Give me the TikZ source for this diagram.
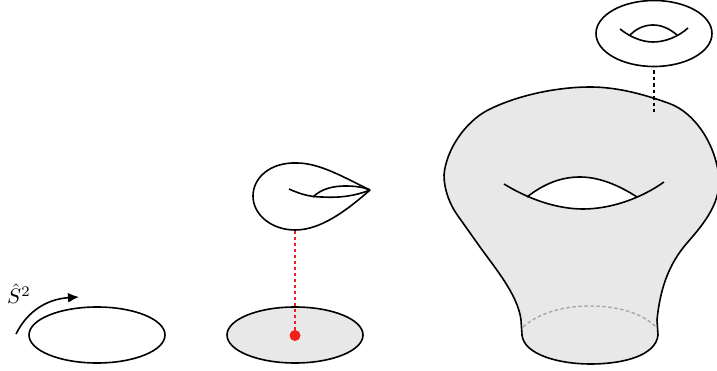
\documentclass[tikz,border=0pt]{standalone}
\usepackage{amsmath}
\usetikzlibrary{shapes.geometric,arrows.meta}
\definecolor{surfgray}{HTML}{E8E8E8}
\definecolor{dotred}{HTML}{F02018}
\tikzset{
  surf/.style={line width=1.6pt},
  disc/.style={draw,ellipse,line width=1.6pt,inner sep=0pt,minimum width=136pt,minimum height=56pt},
}
\begin{document}
\begin{tikzpicture}[x=1pt,y=-1pt,>={Latex[length=11pt,width=10pt]}]
    \useasboundingbox (0,0) rectangle (717,371);

    % big surface
    \path[fill=surfgray] (522,335) .. controls (524,355) and (560,364) .. (590,364)
      .. controls (625,364) and (656,355) .. (658,335)
      -- (657,320) .. controls (660,290) and (668,265) .. (687,243)
      .. controls (700,228) and (721,205) .. (719,178)
      .. controls (716,145) and (695,112) .. (668,103)
      .. controls (640,93) and (615,87) .. (590,87)
      .. controls (560,87) and (520,94) .. (488,110)
      .. controls (465,122) and (446,150) .. (444,175)
      .. controls (444,190) and (450,205) .. (458,216)
      -- (480,247) .. controls (495,268) and (518,295) .. (521,320) -- cycle;
    \draw[surf] (658,335) .. controls (656,355) and (625,364) .. (590,364)
      .. controls (560,364) and (524,355) .. (522,335)
      -- (521,320) .. controls (518,295) and (495,268) .. (480,247)
      -- (458,216) .. controls (450,205) and (444,190) .. (444,175)
      .. controls (446,150) and (465,122) .. (488,110)
      .. controls (520,94) and (560,87) .. (590,87)
      .. controls (615,87) and (640,93) .. (668,103)
      .. controls (695,112) and (716,145) .. (719,178)
      .. controls (721,205) and (700,228) .. (687,243)
      .. controls (668,265) and (660,290) .. (657,320) -- (658,335);
    \draw[gray!70,line width=1.4pt,dash pattern=on 3.5pt off 2.5pt] (523,327) .. controls (540,312) and (565,306) .. (590,306)
      .. controls (615,306) and (642,312) .. (657,328);
    % hole
    \path[fill=white] (527,197) .. controls (545,183) and (562,177) .. (580,177)
      .. controls (600,177) and (620,186) .. (637,197)
      .. controls (620,205) and (600,209) .. (583,209)
      .. controls (565,209) and (545,205) .. (527,197) -- cycle;
    \draw[surf] (504,184) .. controls (530,200) and (558,209) .. (583,209)
      .. controls (610,209) and (640,199) .. (664,182);
    \draw[surf] (527,197) .. controls (545,183) and (562,177) .. (580,177)
      .. controls (600,177) and (620,186) .. (637,197);

    % small torus
    \node[disc,minimum width=116pt,minimum height=66pt] (torus) at (654,33.5) {};
    \draw[surf] (620,29) .. controls (630,37) and (642,42) .. (653,42)
      .. controls (665,42) and (678,37) .. (688,28);
    \draw[surf] (630,35) .. controls (637,28) and (645,25) .. (653,25)
      .. controls (662,25) and (670,29) .. (677,35);
    \coordinate (neck) at (654,112);
    \draw[line width=1.3pt,dash pattern=on 3.5pt off 3pt] (torus.south) ++(0,3) -- (neck);

    % teardrop
    \coordinate (tip) at (370,190);
    \coordinate (dropbase) at (295,231);
    \draw[surf,line join=round] (tip) .. controls (345,178) and (320,163) .. (297,163)
      .. controls (270,162) and (253,178) .. (253,196)
      .. controls (253,215) and (272,230) .. (295,230)
      .. controls (320,230) and (345,212) .. (tip);
    \draw[surf] (289,189) .. controls (300,194) and (310,197) .. (322,197)
      .. controls (340,198) and (355,196) .. (tip);
    \draw[surf] (313,197) .. controls (322,188) and (335,186) .. (345,186)
      .. controls (355,186) and (363,187) .. (tip);

    % discs
    \node[disc] (plain) at (97,335) {};
    \node[disc,fill=surfgray] (shaded) at (295,335) {};
    \node[circle,fill=dotred,inner sep=0pt,minimum size=11pt] (pt) at (295,335.5) {};
    \draw[dotred,line width=1.5pt,dash pattern=on 3pt off 3pt] (pt) -- (dropbase);

    % rotation arrow
    \coordinate (arcstart) at (16,334);
    \coordinate (arcend) at (79,297);
    \draw[->,line width=1.6pt] (arcstart) .. controls (28,310) and (48,299) .. (arcend);
    \node[inner sep=0pt,scale=2.1] (rot) at (19,294) {$\hat{S}^2$};
\end{tikzpicture}
\end{document}
